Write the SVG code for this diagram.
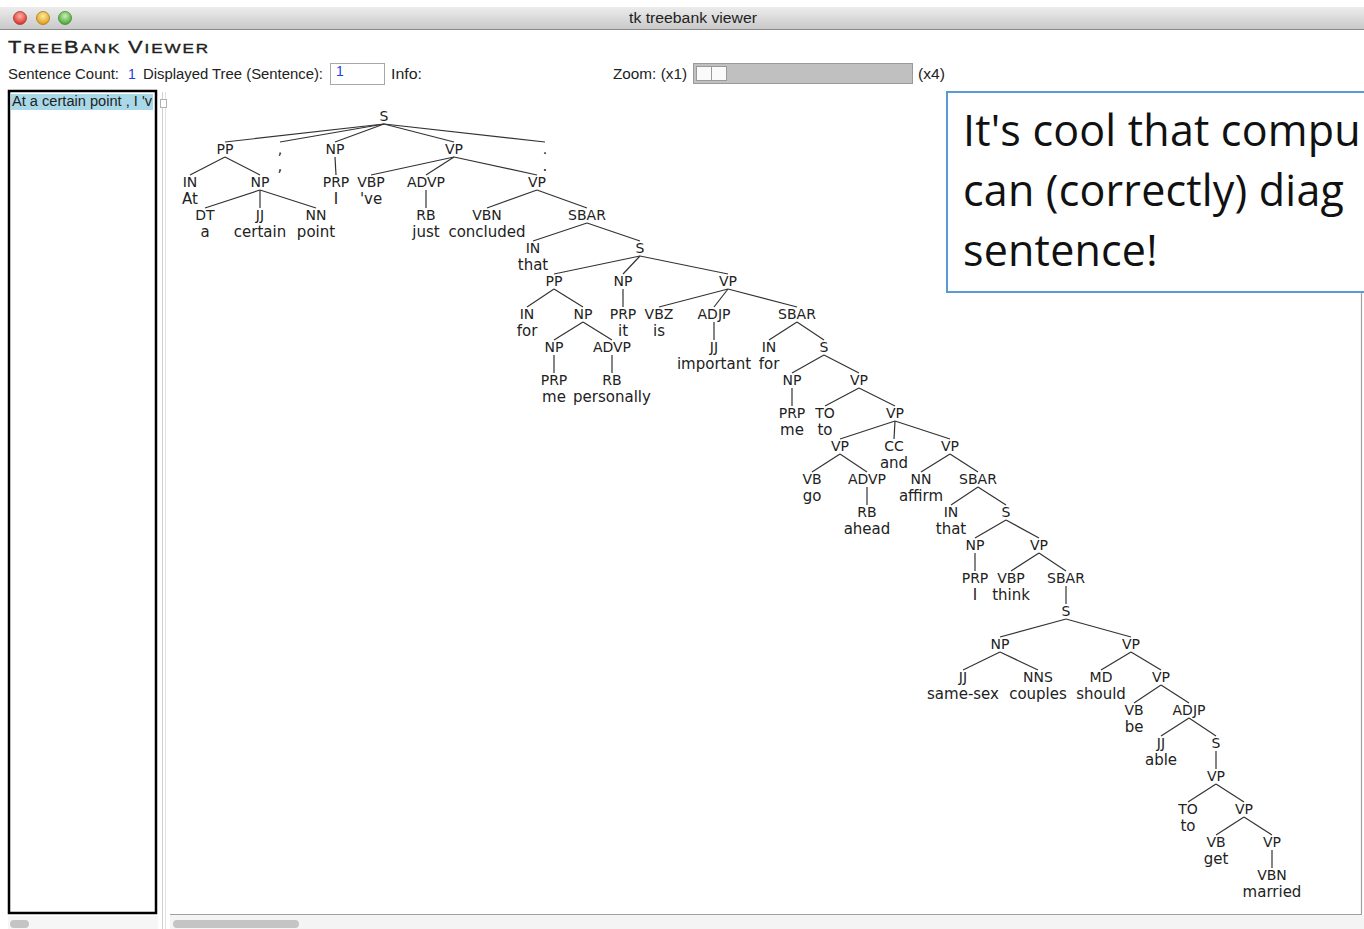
<svg xmlns="http://www.w3.org/2000/svg" width="1364" height="929" viewBox="0 0 1364 929">
  <defs>
    <linearGradient id="titlebar" x1="0" y1="0" x2="0" y2="1">
      <stop offset="0" stop-color="#ececec"/>
      <stop offset="1" stop-color="#c9c9c9"/>
    </linearGradient>
    <radialGradient id="red" cx="0.5" cy="0.35" r="0.6">
      <stop offset="0" stop-color="#ffb0a8"/>
      <stop offset="1" stop-color="#d8382f"/>
    </radialGradient>
    <radialGradient id="yellow" cx="0.5" cy="0.35" r="0.6">
      <stop offset="0" stop-color="#ffe9a0"/>
      <stop offset="1" stop-color="#e0a21c"/>
    </radialGradient>
    <radialGradient id="green" cx="0.5" cy="0.35" r="0.6">
      <stop offset="0" stop-color="#c8f0b0"/>
      <stop offset="1" stop-color="#4ea83a"/>
    </radialGradient>
    <style>
      .ui { font-family: "Liberation Sans", Arial, sans-serif; font-size: 14px; fill: #222; }
      .blue { fill: #1a3fe0; }
      .lab { font-family: "DejaVu Sans", Verdana, sans-serif; font-size: 14px; fill: #222; text-anchor: middle; }
      .wd { font-family: "DejaVu Sans", Verdana, sans-serif; font-size: 15px; fill: #222; text-anchor: middle; }
      .edge line { stroke: #333; stroke-width: 1.2; }
      .note { font-family: "Open Sans", "Noto Sans", sans-serif; font-size: 43px; letter-spacing: 0.2px; fill: #111; }
    </style>
  </defs>

  <!-- window background -->
  <rect x="0" y="0" width="1364" height="929" fill="#ffffff"/>

  <!-- title bar -->
  <g id="titlebar-group">
    <rect x="0" y="7" width="1364" height="22" fill="url(#titlebar)"/>
    <line x1="0" y1="29.5" x2="1364" y2="29.5" stroke="#8a8a8a" stroke-width="1"/>
    <circle cx="20" cy="18" r="6.5" fill="url(#red)" stroke="#a8352e" stroke-width="0.8"/>
    <circle cx="43" cy="18" r="6.5" fill="url(#yellow)" stroke="#a87a1a" stroke-width="0.8"/>
    <circle cx="65" cy="18" r="6.5" fill="url(#green)" stroke="#3f8a2e" stroke-width="0.8"/>
    <text class="ui" x="629" y="23" font-size="13.5" fill="#333" textLength="128" lengthAdjust="spacingAndGlyphs">tk treebank viewer</text>
  </g>

  <!-- application header -->
  <g id="header">
    <text class="ui" x="8" y="53" fill="#1e1e1e" stroke="#1e1e1e" stroke-width="0.35" letter-spacing="1.4" textLength="202" lengthAdjust="spacingAndGlyphs"><tspan font-size="16">T</tspan><tspan font-size="12.5">REE</tspan><tspan font-size="16">B</tspan><tspan font-size="12.5">ANK </tspan><tspan font-size="16">V</tspan><tspan font-size="12.5">IEWER</tspan></text>
  </g>

  <!-- control row -->
  <g id="controls">
    <text class="ui" x="8" y="79" textLength="111" lengthAdjust="spacingAndGlyphs">Sentence Count:</text>
    <text class="ui blue" x="128" y="79">1</text>
    <text class="ui" x="143" y="79" textLength="180" lengthAdjust="spacingAndGlyphs">Displayed Tree (Sentence):</text>
    <rect x="330.5" y="63.5" width="54" height="21" fill="#fff" stroke="#a8a8a8" stroke-width="1"/>
    <text class="ui blue" x="336" y="76" font-size="12">1</text>
    <text class="ui" x="391" y="79" textLength="31" lengthAdjust="spacingAndGlyphs">Info:</text>
    <text class="ui" x="613" y="79" textLength="74" lengthAdjust="spacingAndGlyphs">Zoom: (x1)</text>
    <rect x="693.5" y="63.5" width="219" height="20" fill="#c0c0c0" stroke="#9a9a9a" stroke-width="1"/>
    <rect x="696.5" y="66.5" width="15" height="14" fill="#fafafa" stroke="#9a9a9a" stroke-width="1"/>
    <rect x="711.5" y="66.5" width="15" height="14" fill="#fafafa" stroke="#9a9a9a" stroke-width="1"/>
    <text class="ui" x="918" y="79" textLength="27" lengthAdjust="spacingAndGlyphs">(x4)</text>
  </g>

  <!-- sentence list -->
  <g id="sentence-list">
    <rect x="9" y="91" width="147" height="822" fill="#fff" stroke="#000" stroke-width="2.5"/>
    <rect x="11" y="94" width="142" height="16" fill="#a9d9e8"/>
    <text class="ui" x="12" y="106" font-size="13" textLength="140" lengthAdjust="spacingAndGlyphs">At a certain point , I 'v</text>
    <rect x="8" y="916" width="150" height="13" fill="#f6f6f6"/>
    <rect x="10" y="920" width="19" height="8" rx="4" fill="#c4c4c4"/>
  </g>

  <!-- splitter -->
  <g id="splitter">
    <line x1="162.5" y1="92" x2="162.5" y2="929" stroke="#d0d0d0" stroke-width="1"/>
    <line x1="165.5" y1="92" x2="165.5" y2="929" stroke="#e2e2e2" stroke-width="1"/>
    <rect x="160.5" y="99.5" width="6" height="8" fill="#fff" stroke="#b0b0b0" stroke-width="1"/>
  </g>

  <!-- tree canvas frame and scrollbar -->
  <g id="canvas-frame">
    <line x1="1361.5" y1="92" x2="1361.5" y2="914" stroke="#a0a0a0" stroke-width="1.2"/>
    <line x1="170" y1="914.5" x2="1362" y2="914.5" stroke="#a0a0a0" stroke-width="1.2"/>
    <rect x="170" y="915" width="1194" height="14" fill="#f4f4f4"/>
    <rect x="173" y="920" width="126" height="8" rx="4" fill="#c4c4c4"/>
  </g>

  <!-- parse tree connectors -->
  <g id="connectors" class="edge">
    <line x1="384" y1="124" x2="225" y2="142"/>
    <line x1="384" y1="124" x2="280" y2="142"/>
    <line x1="384" y1="124" x2="335" y2="142"/>
    <line x1="384" y1="124" x2="454" y2="142"/>
    <line x1="384" y1="124" x2="545" y2="142"/>
    <line x1="225" y1="157" x2="190" y2="175"/>
    <line x1="225" y1="157" x2="260" y2="175"/>
    <line x1="335" y1="157" x2="336" y2="175"/>
    <line x1="454" y1="157" x2="371" y2="175"/>
    <line x1="454" y1="157" x2="426" y2="175"/>
    <line x1="454" y1="157" x2="537" y2="175"/>
    <line x1="260" y1="190" x2="205" y2="208"/>
    <line x1="260" y1="190" x2="260" y2="208"/>
    <line x1="260" y1="190" x2="316" y2="208"/>
    <line x1="426" y1="190" x2="426" y2="208"/>
    <line x1="537" y1="190" x2="487" y2="208"/>
    <line x1="537" y1="190" x2="587" y2="208"/>
    <line x1="587" y1="223" x2="533" y2="241"/>
    <line x1="587" y1="223" x2="640" y2="241"/>
    <line x1="640" y1="256" x2="554" y2="274"/>
    <line x1="640" y1="256" x2="623" y2="274"/>
    <line x1="640" y1="256" x2="728" y2="274"/>
    <line x1="554" y1="289" x2="527" y2="307"/>
    <line x1="554" y1="289" x2="583" y2="307"/>
    <line x1="623" y1="289" x2="623" y2="307"/>
    <line x1="728" y1="289" x2="659" y2="307"/>
    <line x1="728" y1="289" x2="714" y2="307"/>
    <line x1="728" y1="289" x2="797" y2="307"/>
    <line x1="583" y1="322" x2="554" y2="340"/>
    <line x1="583" y1="322" x2="612" y2="340"/>
    <line x1="714" y1="322" x2="714" y2="340"/>
    <line x1="797" y1="322" x2="769" y2="340"/>
    <line x1="797" y1="322" x2="824" y2="340"/>
    <line x1="554" y1="355" x2="554" y2="373"/>
    <line x1="612" y1="355" x2="612" y2="373"/>
    <line x1="824" y1="355" x2="792" y2="373"/>
    <line x1="824" y1="355" x2="859" y2="373"/>
    <line x1="792" y1="388" x2="792" y2="406"/>
    <line x1="859" y1="388" x2="825" y2="406"/>
    <line x1="859" y1="388" x2="895" y2="406"/>
    <line x1="895" y1="421" x2="840" y2="439"/>
    <line x1="895" y1="421" x2="894" y2="439"/>
    <line x1="895" y1="421" x2="950" y2="439"/>
    <line x1="840" y1="454" x2="812" y2="472"/>
    <line x1="840" y1="454" x2="867" y2="472"/>
    <line x1="950" y1="454" x2="921" y2="472"/>
    <line x1="950" y1="454" x2="978" y2="472"/>
    <line x1="867" y1="487" x2="867" y2="505"/>
    <line x1="978" y1="487" x2="951" y2="505"/>
    <line x1="978" y1="487" x2="1006" y2="505"/>
    <line x1="1006" y1="520" x2="975" y2="538"/>
    <line x1="1006" y1="520" x2="1039" y2="538"/>
    <line x1="975" y1="553" x2="975" y2="571"/>
    <line x1="1039" y1="553" x2="1011" y2="571"/>
    <line x1="1039" y1="553" x2="1066" y2="571"/>
    <line x1="1066" y1="586" x2="1066" y2="604"/>
    <line x1="1066" y1="619" x2="1000" y2="637"/>
    <line x1="1066" y1="619" x2="1131" y2="637"/>
    <line x1="1000" y1="652" x2="963" y2="670"/>
    <line x1="1000" y1="652" x2="1038" y2="670"/>
    <line x1="1131" y1="652" x2="1101" y2="670"/>
    <line x1="1131" y1="652" x2="1161" y2="670"/>
    <line x1="1161" y1="685" x2="1134" y2="703"/>
    <line x1="1161" y1="685" x2="1189" y2="703"/>
    <line x1="1189" y1="718" x2="1161" y2="736"/>
    <line x1="1189" y1="718" x2="1216" y2="736"/>
    <line x1="1216" y1="751" x2="1216" y2="769"/>
    <line x1="1216" y1="784" x2="1188" y2="802"/>
    <line x1="1216" y1="784" x2="1244" y2="802"/>
    <line x1="1244" y1="817" x2="1216" y2="835"/>
    <line x1="1244" y1="817" x2="1272" y2="835"/>
    <line x1="1272" y1="850" x2="1272" y2="868"/>
  </g>

  <!-- parse tree nodes -->
  <g id="tree">
    <g id="n-S0"><text class="lab" x="384" y="121">S</text></g>
    <g id="n-PP1"><text class="lab" x="225" y="154">PP</text></g>
    <g id="n-comma"><text class="lab" x="280" y="154">,</text><text class="wd" x="280" y="171">,</text></g>
    <g id="n-NP1"><text class="lab" x="335" y="154">NP</text></g>
    <g id="n-VP1"><text class="lab" x="454" y="154">VP</text></g>
    <g id="n-period"><text class="lab" x="545" y="154">.</text><text class="wd" x="545" y="171">.</text></g>

    <g id="n-IN2"><text class="lab" x="190" y="187">IN</text><text class="wd" x="190" y="204">At</text></g>
    <g id="n-NP2"><text class="lab" x="260" y="187">NP</text></g>
    <g id="n-PRP2"><text class="lab" x="336" y="187">PRP</text><text class="wd" x="336" y="204">I</text></g>
    <g id="n-VBP2"><text class="lab" x="371" y="187">VBP</text><text class="wd" x="371" y="204">'ve</text></g>
    <g id="n-ADVP2"><text class="lab" x="426" y="187">ADVP</text></g>
    <g id="n-VP2"><text class="lab" x="537" y="187">VP</text></g>

    <g id="n-DT3"><text class="lab" x="205" y="220">DT</text><text class="wd" x="205" y="237">a</text></g>
    <g id="n-JJ3"><text class="lab" x="260" y="220">JJ</text><text class="wd" x="260" y="237">certain</text></g>
    <g id="n-NN3"><text class="lab" x="316" y="220">NN</text><text class="wd" x="316" y="237">point</text></g>
    <g id="n-RB3"><text class="lab" x="426" y="220">RB</text><text class="wd" x="426" y="237">just</text></g>
    <g id="n-VBN3"><text class="lab" x="487" y="220">VBN</text><text class="wd" x="487" y="237">concluded</text></g>
    <g id="n-SBAR3"><text class="lab" x="587" y="220">SBAR</text></g>

    <g id="n-IN4"><text class="lab" x="533" y="253">IN</text><text class="wd" x="533" y="270">that</text></g>
    <g id="n-S4"><text class="lab" x="640" y="253">S</text></g>

    <g id="n-PP5"><text class="lab" x="554" y="286">PP</text></g>
    <g id="n-NP5"><text class="lab" x="623" y="286">NP</text></g>
    <g id="n-VP5"><text class="lab" x="728" y="286">VP</text></g>

    <g id="n-IN6"><text class="lab" x="527" y="319">IN</text><text class="wd" x="527" y="336">for</text></g>
    <g id="n-NP6"><text class="lab" x="583" y="319">NP</text></g>
    <g id="n-PRP6"><text class="lab" x="623" y="319">PRP</text><text class="wd" x="623" y="336">it</text></g>
    <g id="n-VBZ6"><text class="lab" x="659" y="319">VBZ</text><text class="wd" x="659" y="336">is</text></g>
    <g id="n-ADJP6"><text class="lab" x="714" y="319">ADJP</text></g>
    <g id="n-SBAR6"><text class="lab" x="797" y="319">SBAR</text></g>

    <g id="n-NP7"><text class="lab" x="554" y="352">NP</text></g>
    <g id="n-ADVP7"><text class="lab" x="612" y="352">ADVP</text></g>
    <g id="n-JJ7"><text class="lab" x="714" y="352">JJ</text><text class="wd" x="714" y="369">important</text></g>
    <g id="n-IN7"><text class="lab" x="769" y="352">IN</text><text class="wd" x="769" y="369">for</text></g>
    <g id="n-S7"><text class="lab" x="824" y="352">S</text></g>

    <g id="n-PRP8"><text class="lab" x="554" y="385">PRP</text><text class="wd" x="554" y="402">me</text></g>
    <g id="n-RB8"><text class="lab" x="612" y="385">RB</text><text class="wd" x="612" y="402">personally</text></g>
    <g id="n-NP8"><text class="lab" x="792" y="385">NP</text></g>
    <g id="n-VP8"><text class="lab" x="859" y="385">VP</text></g>

    <g id="n-PRP9"><text class="lab" x="792" y="418">PRP</text><text class="wd" x="792" y="435">me</text></g>
    <g id="n-TO9"><text class="lab" x="825" y="418">TO</text><text class="wd" x="825" y="435">to</text></g>
    <g id="n-VP9"><text class="lab" x="895" y="418">VP</text></g>

    <g id="n-VP10a"><text class="lab" x="840" y="451">VP</text></g>
    <g id="n-CC10"><text class="lab" x="894" y="451">CC</text><text class="wd" x="894" y="468">and</text></g>
    <g id="n-VP10b"><text class="lab" x="950" y="451">VP</text></g>

    <g id="n-VB11"><text class="lab" x="812" y="484">VB</text><text class="wd" x="812" y="501">go</text></g>
    <g id="n-ADVP11"><text class="lab" x="867" y="484">ADVP</text></g>
    <g id="n-NN11"><text class="lab" x="921" y="484">NN</text><text class="wd" x="921" y="501">affirm</text></g>
    <g id="n-SBAR11"><text class="lab" x="978" y="484">SBAR</text></g>

    <g id="n-RB12"><text class="lab" x="867" y="517">RB</text><text class="wd" x="867" y="534">ahead</text></g>
    <g id="n-IN12"><text class="lab" x="951" y="517">IN</text><text class="wd" x="951" y="534">that</text></g>
    <g id="n-S12"><text class="lab" x="1006" y="517">S</text></g>

    <g id="n-NP13"><text class="lab" x="975" y="550">NP</text></g>
    <g id="n-VP13"><text class="lab" x="1039" y="550">VP</text></g>

    <g id="n-PRP14"><text class="lab" x="975" y="583">PRP</text><text class="wd" x="975" y="600">I</text></g>
    <g id="n-VBP14"><text class="lab" x="1011" y="583">VBP</text><text class="wd" x="1011" y="600">think</text></g>
    <g id="n-SBAR14"><text class="lab" x="1066" y="583">SBAR</text></g>

    <g id="n-S15"><text class="lab" x="1066" y="616">S</text></g>

    <g id="n-NP16"><text class="lab" x="1000" y="649">NP</text></g>
    <g id="n-VP16"><text class="lab" x="1131" y="649">VP</text></g>

    <g id="n-JJ17"><text class="lab" x="963" y="682">JJ</text><text class="wd" x="963" y="699">same-sex</text></g>
    <g id="n-NNS17"><text class="lab" x="1038" y="682">NNS</text><text class="wd" x="1038" y="699">couples</text></g>
    <g id="n-MD17"><text class="lab" x="1101" y="682">MD</text><text class="wd" x="1101" y="699">should</text></g>
    <g id="n-VP17"><text class="lab" x="1161" y="682">VP</text></g>

    <g id="n-VB18"><text class="lab" x="1134" y="715">VB</text><text class="wd" x="1134" y="732">be</text></g>
    <g id="n-ADJP18"><text class="lab" x="1189" y="715">ADJP</text></g>

    <g id="n-JJ19"><text class="lab" x="1161" y="748">JJ</text><text class="wd" x="1161" y="765">able</text></g>
    <g id="n-S19"><text class="lab" x="1216" y="748">S</text></g>

    <g id="n-VP20"><text class="lab" x="1216" y="781">VP</text></g>

    <g id="n-TO21"><text class="lab" x="1188" y="814">TO</text><text class="wd" x="1188" y="831">to</text></g>
    <g id="n-VP21"><text class="lab" x="1244" y="814">VP</text></g>

    <g id="n-VB22"><text class="lab" x="1216" y="847">VB</text><text class="wd" x="1216" y="864">get</text></g>
    <g id="n-VP22"><text class="lab" x="1272" y="847">VP</text></g>

    <g id="n-VBN23"><text class="lab" x="1272" y="880">VBN</text><text class="wd" x="1272" y="897">married</text></g>
  </g>

  <!-- comment box laid over the canvas, running off the right edge -->
  <g id="callout">
    <rect x="947" y="92" width="430" height="200" fill="#fff" stroke="#5b9bd5" stroke-width="2"/>
    <text class="note" x="963" y="146">It's cool that compu</text>
    <text class="note" x="963" y="206">can (correctly) diag</text>
    <text class="note" x="963" y="266">sentence!</text>
  </g>
</svg>
